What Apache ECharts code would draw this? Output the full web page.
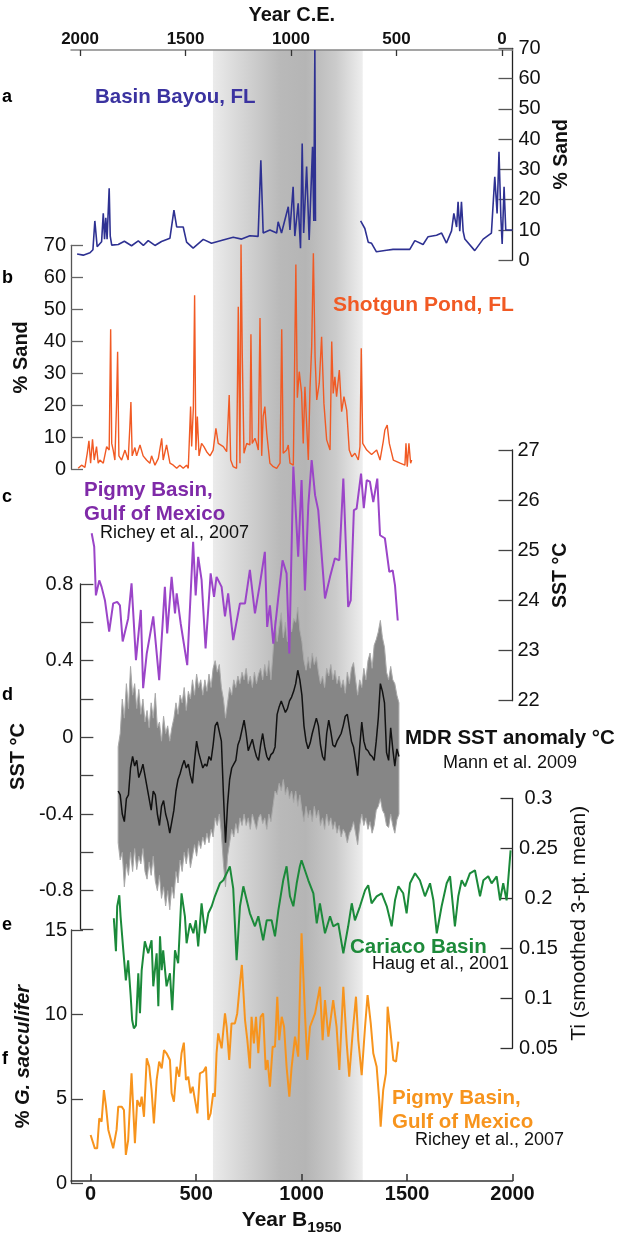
<!DOCTYPE html>
<html><head><meta charset="utf-8">
<script src="https://cdn.jsdelivr.net/npm/echarts@6/dist/echarts.min.js"></script>
<style>html,body{margin:0;padding:0;background:#fff}#c{width:618px;height:1241px}</style>
</head><body><div id="c"></div>
<script>
const FONT = "'Liberation Sans', Arial, Helvetica, sans-serif";
const X_MIN = -93, X_MAX = 2000;
const xTicksB1950 = [0, 500, 1000, 1500, 2000];
const xTicksCE = [2000, 1500, 1000, 500, 0];
const bandYears = [580, 1290];

// a: Basin Bayou, FL (% sand)
const basinBayouEarly = [[-64,2.1],[-35,1.7],[-3,2.5],[11,3.5],[20,13],[31,4.5],[52,6.1],[60,15.5],[66,7],[72,14],[78,7],[88,23.8],[93,8],[100,5],[131,5.2],[160,6.3],[194,4.8],[226,6.4],[250,4.9],[273,6.5],[305,4.9],[336,6.2],[376,7.3],[395,16.6],[408,11],[439,11],[455,6],[486,4],[534,6.9],[573,5.6],[628,6.7],[676,7.6],[716,7],[755,8.1],[794,7.9],[807,33],[818,9],[850,10],[882,9],[889,12.7],[905,9],[937,17.7],[945,10],[960,24.3],[968,8],[984,18.8],[995,4],[1003,38.6],[1010,9],[1024,31],[1036,6.7],[1052,37.5],[1058,13],[1063,69.4],[1066,13]];
const basinBayouLate = [[1280,13],[1300,10.5],[1316,6],[1332,5.6],[1355,2.8],[1403,3.3],[1434,3.6],[1513,3.6],[1537,6.5],[1576,5.2],[1600,7.8],[1640,8.3],[1664,9],[1687,5.7],[1711,9.7],[1722,15.5],[1735,11],[1742,19.3],[1750,9.6],[1758,19.3],[1766,9.6],[1774,7],[1821,3.2],[1861,7],[1900,9],[1916,27.6],[1927,15.5],[1936,35.8],[1945,14],[1951,5.4],[1960,24.3],[1968,10],[2000,10]];

// b: Shotgun Pond, FL (% sand)
const shotgunPond = [[-59,0.3],[-43,1.3],[-27,0.6],[-16,5.0],[-8,8.9],[0,1.9],[9,9.4],[17,2.9],[28,7.1],[36,1.9],[44,2.9],[60,1.9],[76,7.1],[88,6.0],[95,43.8],[100,8.1],[107,6.0],[115,2.9],[123,20.6],[128,36.7],[134,4.2],[147,2.9],[163,6.0],[178,2.9],[186,13.3],[191,21],[197,4.2],[210,6.8],[218,4.2],[234,7.6],[249,4.2],[265,2.9],[281,1.9],[289,4.2],[305,1.3],[321,3.4],[329,2.9],[337,9.7],[344,2.9],[360,7.6],[368,8.1],[376,1.9],[392,1.3],[408,0.3],[423,1.3],[439,0.3],[455,1.3],[463,0.3],[474,19.6],[479,7.1],[487,19.1],[493,54.4],[499,6.0],[506,16.5],[514,4.2],[526,8.1],[537,7.1],[550,5.5],[566,4.2],[581,6.0],[594,12.8],[605,8.1],[629,7.1],[645,5.5],[657,23.2],[664,2.9],[676,0.8],[692,0.3],[700,50.8],[708,1.9],[713,70.6],[719,35.7],[727,5.0],[740,8.1],[755,7.6],[760,42.2],[766,8.1],[779,9.7],[787,8.1],[795,6.0],[803,47.3],[811,4.2],[818,16.6],[826,19.6],[835,11.2],[850,1.9],[866,0.8],[882,0.3],[898,1.9],[906,43.8],[913,5.0],[929,6.0],[937,7.6],[945,1.9],[961,1.3],[973,64],[980,22.4],[989,30.5],[1000,24],[1008,8.1],[1016,25.8],[1032,2.9],[1040,25.3],[1048,38.3],[1056,67.5],[1064,35.2],[1072,21.7],[1084,26.9],[1095,41.4],[1106,20.6],[1119,9.2],[1135,6.0],[1143,39.9],[1150,23.7],[1158,28.9],[1166,22.7],[1179,31],[1190,18],[1201,22.7],[1214,18.5],[1226,6.0],[1238,3.9],[1253,5.0],[1269,2.9],[1277,7.1],[1283,37.8],[1290,8.1],[1309,6.0],[1332,4.6],[1356,6.0],[1372,2.9],[1387,8.6],[1395,12.3],[1406,13.8],[1416,8.1],[1435,2.9],[1467,1.9],[1490,1.3],[1495,8.1],[1501,0.8],[1509,8.1],[1517,1.9],[1522,2.9]];

// c: Pigmy Basin SST (°C)
const pigmySST = [[5,25.34],[17,25.07],[25,24.1],[41,24.4],[52,24.27],[68,24.0],[88,23.38],[107,23.94],[126,23.97],[139,23.9],[152,23.18],[178,23.64],[194,24.34],[215,22.81],[238,23.81],[249,22.25],[266,22.94],[297,23.68],[325,22.41],[352,24.27],[363,23.34],[384,24.47],[400,23.74],[408,24.14],[427,23.54],[458,22.71],[486,25.17],[498,24.1],[510,24.87],[526,24.41],[545,23.04],[569,24.54],[585,24.07],[597,24.47],[621,24.27],[637,23.68],[652,24.14],[676,23.21],[708,23.94],[732,23.94],[755,24.61],[779,23.74],[803,24.34],[826,24.97],[837,23.47],[850,23.9],[866,23.14],[890,24.07],[910,24.8],[929,24.54],[942,22.94],[961,26.67],[984,24.87],[1000,26.4],[1016,24.2],[1032,25.9],[1048,26.8],[1064,26.1],[1079,25.8],[1111,24.04],[1135,24.47],[1158,24.84],[1179,24.8],[1187,24.8],[1198,26.43],[1221,23.87],[1233,24.0],[1248,25.8],[1261,25.83],[1282,26.53],[1295,25.84],[1309,26.4],[1324,26.37],[1340,25.96],[1359,26.43],[1372,25.3],[1395,25.24],[1416,24.57],[1432,24.6],[1443,24.3],[1456,23.6]];

// d: MDR SST anomaly (Mann et al. 2009): years, mean, upper and lower envelope
const mdrYears = [90,
 100,110,120,130,140,150,160,170,180,190,
 200,210,220,230,240,250,260,270,280,290,
 300,310,320,330,340,350,360,370,380,390,
 400,410,420,430,440,450,460,470,480,490,
 500,510,520,530,540,550,560,570,580,590,
 600,610,620,630,640,650,660,670,680,690,
 700,710,720,730,740,750,760,770,780,790,
 800,810,820,830,840,850,860,870,880,890,
 900,910,920,930,940,950,960,970,980,990,
 1000,1010,1020,1030,1040,1050,1060,1070,1080,1090,
 1100,1110,1120,1130,1140,1150,1160,1170,1180,1190,
 1200,1210,1220,1230,1240,1250,1260,1270,1280,1290,
 1300,1310,1320,1330,1340,1350,1360,1370,1380,1390,
 1400,1410,1420,1430,1440,1450];
const mdrMean = [-0.28,
 -0.30,-0.40,-0.44,-0.32,-0.30,-0.16,-0.10,-0.15,-0.12,-0.21,
 -0.18,-0.14,-0.20,-0.26,-0.32,-0.38,-0.28,-0.30,-0.40,-0.46,
 -0.36,-0.33,-0.40,-0.44,-0.50,-0.44,-0.38,-0.28,-0.22,-0.19,
 -0.15,-0.12,-0.16,-0.14,-0.20,-0.24,-0.12,-0.02,-0.08,-0.12,
 -0.16,-0.14,-0.15,-0.10,-0.12,-0.04,0.06,0.08,0.03,-0.02,
 -0.30,-0.55,-0.35,-0.22,-0.16,-0.14,-0.12,-0.04,-0.01,0.04,
 0.09,0.02,-0.07,-0.04,-0.01,-0.06,-0.10,-0.12,-0.04,0.02,
 -0.05,-0.10,-0.12,-0.09,-0.08,-0.05,0.12,0.16,0.19,0.16,
 0.13,0.15,0.19,0.21,0.24,0.28,0.35,0.30,0.22,0.06,
 -0.02,-0.06,-0.03,0.02,0.06,0.10,0.06,-0.04,-0.10,-0.12,
 0.02,0.09,0.03,-0.04,-0.05,-0.02,0.00,0.02,0.06,0.11,
 0.12,0.05,-0.02,-0.05,-0.12,-0.20,-0.05,0.08,-0.02,-0.06,
 -0.07,-0.09,-0.10,-0.12,-0.02,0.10,0.28,0.24,0.18,-0.08,
 -0.12,0.05,-0.06,-0.15,-0.06,-0.10];
const mdrUpper = [-0.05,
 0.02,0.20,0.10,0.28,0.15,0.37,0.22,0.28,0.15,0.25,
 0.12,0.20,0.08,0.14,0.05,0.18,0.10,0.23,0.05,0.08,
 -0.02,0.11,0.02,0.06,-0.02,0.05,0.10,0.18,0.12,0.22,
 0.18,0.26,0.14,0.24,0.20,0.30,0.22,0.33,0.26,0.30,
 0.22,0.30,0.24,0.33,0.26,0.36,0.40,0.34,0.38,0.26,
 0.20,0.10,0.18,0.26,0.22,0.30,0.26,0.32,0.28,0.34,
 0.30,0.36,0.28,0.32,0.26,0.34,0.28,0.33,0.36,0.30,
 0.38,0.32,0.40,0.30,0.44,0.61,0.50,0.58,0.65,0.52,
 0.60,0.50,0.58,0.55,0.62,0.60,0.68,0.56,0.50,0.40,
 0.35,0.42,0.36,0.44,0.38,0.42,0.34,0.28,0.32,0.26,
 0.36,0.32,0.38,0.30,0.35,0.28,0.32,0.26,0.30,0.23,
 0.34,0.28,0.36,0.39,0.30,0.22,0.30,0.26,0.36,0.30,
 0.40,0.44,0.36,0.48,0.51,0.55,0.61,0.52,0.47,0.34,
 0.30,0.37,0.30,0.28,0.22,0.18];
const mdrLower = [-0.55,
 -0.64,-0.60,-0.78,-0.66,-0.72,-0.60,-0.70,-0.58,-0.69,-0.62,
 -0.66,-0.58,-0.70,-0.74,-0.65,-0.72,-0.62,-0.75,-0.80,-0.72,
 -0.84,-0.78,-0.88,-0.80,-0.90,-0.78,-0.84,-0.70,-0.76,-0.64,
 -0.70,-0.60,-0.66,-0.58,-0.68,-0.62,-0.56,-0.62,-0.54,-0.58,
 -0.52,-0.56,-0.50,-0.55,-0.48,-0.52,-0.42,-0.46,-0.40,-0.50,
 -0.66,-0.78,-0.62,-0.55,-0.48,-0.52,-0.45,-0.50,-0.42,-0.46,
 -0.40,-0.46,-0.42,-0.48,-0.40,-0.44,-0.48,-0.42,-0.40,-0.45,
 -0.42,-0.48,-0.40,-0.44,-0.36,-0.28,-0.30,-0.24,-0.28,-0.22,
 -0.30,-0.26,-0.32,-0.28,-0.34,-0.28,-0.36,-0.30,-0.38,-0.44,
 -0.36,-0.42,-0.38,-0.44,-0.36,-0.42,-0.38,-0.46,-0.42,-0.48,
 -0.40,-0.46,-0.42,-0.48,-0.44,-0.50,-0.46,-0.52,-0.48,-0.50,
 -0.55,-0.50,-0.48,-0.44,-0.50,-0.56,-0.46,-0.40,-0.46,-0.42,
 -0.48,-0.44,-0.50,-0.46,-0.38,-0.36,-0.32,-0.38,-0.40,-0.46,
 -0.47,-0.40,-0.46,-0.50,-0.43,-0.40];

// e: Cariaco Basin Ti
const cariacoTi = [[110,0.180],[120,0.147],[126,0.192],[136,0.203],[142,0.182],[155,0.148],[167,0.118],[178,0.138],[190,0.102],[197,0.078],[205,0.070],[215,0.073],[226,0.125],[234,0.085],[242,0.128],[257,0.157],[273,0.145],[289,0.158],[297,0.112],[313,0.145],[321,0.092],[329,0.162],[337,0.128],[344,0.148],[360,0.112],[376,0.125],[387,0.088],[400,0.148],[415,0.135],[431,0.205],[447,0.182],[455,0.155],[471,0.175],[487,0.165],[499,0.178],[510,0.152],[526,0.195],[542,0.165],[558,0.185],[574,0.192],[589,0.202],[613,0.215],[629,0.218],[645,0.225],[660,0.232],[676,0.210],[692,0.138],[708,0.192],[724,0.212],[740,0.198],[755,0.185],[779,0.172],[795,0.182],[818,0.158],[835,0.178],[858,0.178],[874,0.162],[890,0.188],[913,0.218],[929,0.232],[945,0.202],[961,0.192],[977,0.215],[992,0.232],[1000,0.238],[1016,0.228],[1032,0.218],[1056,0.205],[1072,0.175],[1087,0.195],[1111,0.165],[1135,0.182],[1150,0.172],[1174,0.175],[1198,0.145],[1221,0.172],[1238,0.195],[1253,0.178],[1277,0.192],[1301,0.208],[1316,0.213],[1332,0.195],[1356,0.202],[1380,0.205],[1404,0.192],[1427,0.172],[1443,0.198],[1459,0.212],[1482,0.205],[1498,0.185],[1514,0.215],[1538,0.225],[1561,0.218],[1585,0.202],[1609,0.215],[1625,0.198],[1641,0.165],[1664,0.192],[1688,0.215],[1704,0.222],[1727,0.172],[1743,0.202],[1759,0.218],[1775,0.212],[1798,0.225],[1822,0.228],[1846,0.202],[1862,0.218],[1885,0.222],[1901,0.215],[1925,0.222],[1941,0.198],[1956,0.215],[1972,0.198],[1991,0.248]];

// f: Pigmy Basin % G. sacculifer
const pigmyGsac = [[0,2.86],[20,2.07],[31,2.07],[41,3.85],[52,3.65],[63,5.52],[73,4.54],[84,3.16],[107,2.07],[123,3.16],[131,4.54],[147,4.54],[158,4.34],[167,1.68],[178,2.56],[194,6.51],[210,2.37],[221,4.93],[234,4.54],[242,5.13],[253,3.94],[266,7.40],[278,6.9],[289,5.52],[300,3.55],[313,6.12],[325,7.2],[337,6.81],[348,7.89],[360,7.7],[376,7.3],[384,5.33],[395,4.83],[408,6.9],[420,6.31],[431,7.7],[442,8.33],[452,6.12],[463,6.31],[474,5.33],[484,5.72],[495,4.93],[506,4.14],[518,6.51],[534,6.61],[547,6.9],[558,3.75],[569,4.14],[581,5.33],[589,5.13],[597,7.7],[605,8.88],[621,7.99],[637,10.06],[645,9.27],[657,7.3],[668,9.47],[684,9.47],[695,10.06],[708,11.84],[717,12.93],[732,9.67],[743,8.48],[755,6.8],[763,9.86],[774,8.29],[784,9.86],[795,7.7],[806,9.86],[818,10.06],[830,6.71],[839,7.3],[850,5.72],[863,8.09],[874,8.09],[885,11.05],[894,8.48],[906,9.86],[917,9.27],[929,6.9],[942,5.13],[953,6.9],[969,8.68],[984,7.5],[1000,14.8],[1016,10.06],[1027,7.3],[1040,9.27],[1064,10.06],[1087,11.64],[1100,8.48],[1111,10.85],[1127,8.68],[1150,10.85],[1166,9.27],[1179,6.71],[1198,11.64],[1214,8.29],[1226,6.31],[1242,8.88],[1258,11.05],[1269,8.48],[1285,6.41],[1301,9.27],[1313,11.15],[1328,9.47],[1340,7.7],[1356,6.9],[1368,4.93],[1375,3.35],[1387,5.52],[1400,6.51],[1408,10.46],[1419,9.27],[1435,7.3],[1448,7.2],[1459,8.39]];

// ---------- build ----------
const chart = echarts.init(document.getElementById('c'), null, {renderer: 'canvas'});
const GL = 71, GR = 105.5;
const grids = [
  {top: 48, height: 1136},     // 0 full (band + x axes)
  {top: 48.3, height: 212},    // a
  {top: 245.3, height: 224},   // b
  {top: 450, height: 250.7},   // c
  {top: 584, height: 345},     // d
  {top: 798.3, height: 250},   // e
  {top: 930, height: 253.3}    // f
].map(g => Object.assign({left: GL, right: GR, containLabel: false}, g));

const lbl = (extra) => Object.assign({fontSize: 20, color: '#111', fontFamily: FONT}, extra || {});
const nameStyle = (extra) => Object.assign({fontSize: 20, fontWeight: 'bold', color: '#111', fontFamily: FONT}, extra || {});

function yAx(gi, pos, min, max, interval, o) {
  return Object.assign({
    gridIndex: gi, type: 'value', position: pos, min: min, max: max, interval: interval,
    axisLine: {show: true, onZero: false, lineStyle: {color: '#222', width: 1.3}},
    axisTick: {show: true, inside: true, length: 13, lineStyle: {color: '#444', width: 1.3}},
    axisLabel: lbl({margin: 6}),
    splitLine: {show: false},
    nameLocation: 'middle', nameRotate: 90
  }, o);
}

const xHidden = (gi) => ({gridIndex: gi, type: 'value', min: X_MIN, max: X_MAX, show: false});

const ceTickPos = xTicksCE.map(ce => 1950 - ce);
const mdrBandData = mdrYears.map((y, i) => [y, mdrLower[i], mdrUpper[i]]);

const option = {
  animation: false,
  backgroundColor: '#fff',
  grid: grids,
  xAxis: [
    {gridIndex: 0, type: 'value', position: 'bottom', min: X_MIN, max: X_MAX,
     axisLine: {show: true, onZero: false, lineStyle: {color: '#333', width: 1.5}},
     axisTick: {show: true, inside: true, length: 7, customValues: xTicksB1950, lineStyle: {color: '#333', width: 1.5}},
     axisLabel: {customValues: xTicksB1950, formatter: v => String(v), fontSize: 20, fontWeight: 'bold', color: '#111', fontFamily: FONT, margin: 3},
     splitLine: {show: false},
     name: '{a|Year B}{b|1950}', nameLocation: 'middle', nameGap: 29,
     nameTextStyle: {rich: {
       a: {fontSize: 21, fontWeight: 'bold', color: '#111', fontFamily: FONT, verticalAlign: 'bottom', padding: [0, 0, 5, 0]},
       b: {fontSize: 15.5, fontWeight: 'bold', color: '#111', fontFamily: FONT, verticalAlign: 'bottom'}
     }}},
    {gridIndex: 0, type: 'value', position: 'top', min: X_MIN, max: X_MAX,
     axisLine: {show: true, onZero: false, lineStyle: {color: '#888', width: 1.5}},
     axisTick: {show: true, inside: true, length: 6, customValues: ceTickPos, lineStyle: {color: '#333', width: 1.3}},
     axisLabel: {customValues: ceTickPos, formatter: v => String(Math.round(1950 - v)), fontSize: 17, fontWeight: 'bold', color: '#111', fontFamily: FONT, margin: 2},
     splitLine: {show: false},
     name: 'Year C.E.', nameLocation: 'middle', nameGap: 25, nameTextStyle: nameStyle()},
    xHidden(1), xHidden(2), xHidden(3), xHidden(4), xHidden(5), xHidden(6)
  ],
  yAxis: [
    {gridIndex: 0, type: 'value', min: 0, max: 1, show: false},
    yAx(1, 'right', 0, 70, 10, {name: '% Sand', nameGap: 33, nameTextStyle: nameStyle({fontSize: 19.5}),
        axisTick: {show: true, inside: true, length: 14, lineStyle: {color: '#555', width: 1.3}}}),
    yAx(2, 'left', 0, 70, 10, {name: '% Sand', nameGap: 40, nameTextStyle: nameStyle(),
        axisLine: {show: true, onZero: false, lineStyle: {color: '#555', width: 1.3}},
        axisTick: {show: true, inside: true, length: 12, lineStyle: {color: '#666', width: 1.3}},
        axisLabel: lbl({margin: 5})}),
    yAx(3, 'right', 22, 27, 1, {name: 'SST °C', nameGap: 29, nameTextStyle: nameStyle({fontSize: 19.5}),
        axisTick: {show: true, inside: true, length: 14, lineStyle: {color: '#444', width: 1.3}},
        axisLabel: lbl({margin: 5})}),
    yAx(4, 'left', -1, 0.8, 0.2, {name: 'SST °C', nameGap: 29, nameTextStyle: nameStyle(),
        axisLabel: lbl({margin: 7, formatter: v => { const n = Math.round(v * 10); if (n % 4 !== 0) return ''; return String(n / 10); }})}),
    yAx(5, 'right', 0.05, 0.3, 0.05, {name: 'Ti (smoothed 3-pt. mean)', nameGap: 52,
        nameTextStyle: {fontSize: 21, color: '#111', fontFamily: FONT},
        axisTick: {show: true, inside: true, length: 12, lineStyle: {color: '#333', width: 1.3}},
        axisLabel: lbl({margin: 26, align: 'center'})}),
    yAx(6, 'left', 0, 15, 5, {name: '{p|% }{i|G. sacculifer}', nameGap: 34,
        nameTextStyle: {rich: {
          p: {fontSize: 20, fontWeight: 'bold', color: '#111', fontFamily: FONT},
          i: {fontSize: 20, fontWeight: 'bold', fontStyle: 'italic', color: '#111', fontFamily: FONT}
        }},
        axisLine: {show: true, onZero: false, lineStyle: {color: '#444', width: 1.3}},
        axisTick: {show: true, inside: true, length: 12, lineStyle: {color: '#444', width: 1.3}},
        axisLabel: lbl({margin: 4})})
  ],
  series: [
    {type: 'custom', name: 'band', xAxisIndex: 0, yAxisIndex: 0, silent: true, z: 0,
     data: [[bandYears[0], bandYears[1]]],
     renderItem: function (params, api) {
       const p0 = api.coord([api.value(0), 1]);
       const p1 = api.coord([api.value(1), 0]);
       return {type: 'rect', shape: {x: p0[0], y: p0[1], width: p1[0] - p0[0], height: p1[1] - p0[1]},
         style: {fill: new echarts.graphic.LinearGradient(0, 0, 1, 0, [
           {offset: 0, color: '#ebebeb'}, {offset: 0.15, color: '#dadada'},
           {offset: 0.45, color: '#b9b9b9'}, {offset: 0.62, color: '#b5b5b5'},
           {offset: 0.82, color: '#cbcbcb'}, {offset: 1, color: '#eeeeee'}])}};
     }},
    {type: 'line', name: 'Basin Bayou early', xAxisIndex: 2, yAxisIndex: 1, data: basinBayouEarly, showSymbol: false, symbol: 'none', z: 3,
     lineStyle: {color: '#2e3192', width: 1.6}},
    {type: 'line', name: 'Basin Bayou late', xAxisIndex: 2, yAxisIndex: 1, data: basinBayouLate, showSymbol: false, symbol: 'none', z: 3,
     lineStyle: {color: '#2e3192', width: 1.6}},
    {type: 'line', name: 'Shotgun Pond', xAxisIndex: 3, yAxisIndex: 2, data: shotgunPond, showSymbol: false, symbol: 'none', z: 3,
     lineStyle: {color: '#f15a24', width: 1.4}},
    {type: 'line', name: 'Pigmy SST', xAxisIndex: 4, yAxisIndex: 3, data: pigmySST, showSymbol: false, symbol: 'none', z: 4,
     lineStyle: {color: '#9b45c8', width: 2}},
    {type: 'custom', name: 'MDR band', xAxisIndex: 5, yAxisIndex: 4, silent: true, z: 2,
     data: mdrBandData,
     encode: {x: 0, y: [1, 2]},
     renderItem: function (params, api) {
       if (params.dataIndex !== 0) return null;
       const top = [], bot = [];
       for (let i = 0; i < mdrBandData.length; i++) {
         top.push(api.coord([mdrBandData[i][0], mdrBandData[i][2]]));
         bot.push(api.coord([mdrBandData[i][0], mdrBandData[i][1]]));
       }
       return {type: 'polygon', shape: {points: top.concat(bot.reverse())},
         style: {fill: '#868686', stroke: '#a9a9a9', lineWidth: 1}};
     }},
    {type: 'line', name: 'MDR mean', xAxisIndex: 5, yAxisIndex: 4, showSymbol: false, symbol: 'none', z: 3,
     data: mdrYears.map((y, i) => [y, mdrMean[i]]),
     lineStyle: {color: '#111', width: 1.5}},
    {type: 'line', name: 'Cariaco Ti', xAxisIndex: 6, yAxisIndex: 5, data: cariacoTi, showSymbol: false, symbol: 'none', z: 4,
     lineStyle: {color: '#1b8a3a', width: 2}},
    {type: 'line', name: 'Pigmy G. sacculifer', xAxisIndex: 7, yAxisIndex: 6, data: pigmyGsac, showSymbol: false, symbol: 'none', z: 4,
     lineStyle: {color: '#f7941d', width: 2}}
  ],
  graphic: []
};

function txt(x, y, text, size, weight, color) {
  return {type: 'text', x: x, y: y, z: 100, silent: true,
    style: {text: text, fontSize: size, fontWeight: weight, fontFamily: FONT, fill: color, align: 'left', verticalAlign: 'middle'}};
}
option.graphic = [
  txt(2, 97, 'a', 18, 'bold', '#000'),
  txt(95, 97, 'Basin Bayou, FL', 20.5, 'bold', '#3b33a0'),
  txt(2, 278, 'b', 18, 'bold', '#000'),
  txt(333, 305, 'Shotgun Pond, FL', 21, 'bold', '#f15a24'),
  txt(2, 497, 'c', 18, 'bold', '#000'),
  txt(84, 490, 'Pigmy Basin,', 20.5, 'bold', '#7f2aa8'),
  txt(84, 514, 'Gulf of Mexico', 20.5, 'bold', '#7f2aa8'),
  txt(100, 533, 'Richey et al., 2007', 18, 'normal', '#111'),
  txt(2, 695, 'd', 18, 'bold', '#000'),
  txt(405, 738, 'MDR SST anomaly °C', 20.5, 'bold', '#111'),
  txt(443, 763, 'Mann et al. 2009', 18, 'normal', '#111'),
  txt(2, 925, 'e', 18, 'bold', '#000'),
  txt(350, 947, 'Cariaco Basin', 20.5, 'bold', '#1d8a3a'),
  txt(372, 964, 'Haug et al., 2001', 18, 'normal', '#111'),
  txt(2, 1059, 'f', 18, 'bold', '#000'),
  txt(392, 1098, 'Pigmy Basin,', 20.5, 'bold', '#f7941d'),
  txt(392, 1122, 'Gulf of Mexico', 20.5, 'bold', '#f7941d'),
  txt(415, 1140, 'Richey et al., 2007', 18, 'normal', '#111')
];

chart.setOption(option);
</script>
</body></html>
